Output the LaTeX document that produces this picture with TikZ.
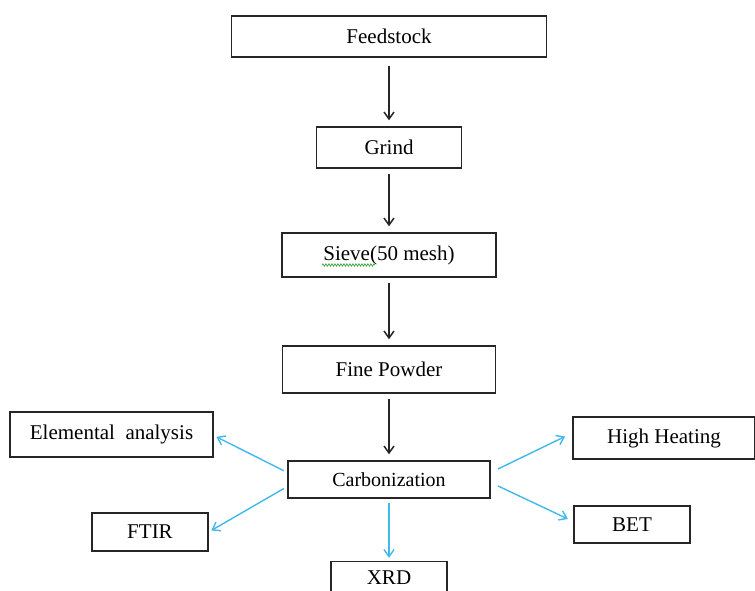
\documentclass[tikz,border=0pt]{standalone}
\usepackage{fontspec}
\setmainfont{Liberation Serif}
\usetikzlibrary{positioning,arrows.meta,decorations.pathmorphing,calc}
\definecolor{testblue}{RGB}{64,184,236}
\definecolor{spellgreen}{RGB}{60,170,60}
\tikzset{
  box/.style={draw=black!85, line width=1.4pt, rectangle, inner sep=0pt,
    font=\fontsize{21}{24}\selectfont},
  flow/.style={-{Straight Barb[length=7pt,width=10pt]}, line width=1.5pt, black!85,
    shorten <=5pt, shorten >=6pt},
  test/.style={-{Straight Barb[length=7pt,width=10pt]}, line width=1.4pt, testblue,
    shorten <=4pt, shorten >=3pt},
}

\begin{document}
\begin{tikzpicture}[x=1pt,y=-1pt,node distance=110pt,on grid]
  \useasboundingbox (0,0) rectangle (755,591);
  % main line
  \node[box,minimum width=315pt,minimum height=41pt] (feed) at (389,36.5) {Feedstock};
  \node[box,minimum width=145pt,minimum height=41pt] (grind) [below=111pt of feed] {Grind};
  \node[box,minimum width=214pt,minimum height=44pt] (sieve) [below=107.5pt of grind] {Sieve(50 mesh)};
  \node[box,minimum width=213pt,minimum height=47pt] (powder) [below=114.5pt of sieve] {Fine Powder};
  \node[box,minimum width=202pt,minimum height=37pt,font=\fontsize{20}{23}\selectfont] (carb) [below=110pt of powder] {Carbonization};
  % analyses
  \node[box,minimum width=116pt,minimum height=33pt,text depth=0pt] (xrd) [below=98.5pt of carb] {XRD};
  \node[box,minimum width=203pt,minimum height=45pt] (elem) [above left=45pt and 277.5pt of carb] {Elemental\ \ analysis};
  \node[box,minimum width=116pt,minimum height=38pt] (ftir) [below left=52.5pt and 239pt of carb] {FTIR};
  \node[box,minimum width=182pt,minimum height=42pt] (heat) [above right=41.5pt and 275pt of carb] {High Heating};
  \node[box,minimum width=116pt,minimum height=37pt] (bet) [below right=45pt and 243pt of carb] {BET};

  \draw[flow,shorten <=8pt] (feed) -- (grind);
  \draw[flow] (grind) -- (sieve);
  \draw[flow] (sieve) -- (powder);
  \draw[flow] (powder) -- (carb);
  \draw[test] (carb) -- (xrd);
  \draw[test] ([yshift=7pt]carb.west) -- ([yshift=-1pt]elem.east);
  \draw[test] ([yshift=-7pt]carb.west) -- (ftir.east);
  \draw[test,shorten <=8pt,shorten >=8pt] ([yshift=7pt]carb.east) -- ([yshift=5pt]heat.west);
  \draw[test,shorten <=8pt,shorten >=6pt] ([yshift=-3pt]carb.east) -- ([yshift=3pt]bet.west);

  % spell-check mark
  \draw[spellgreen,line width=0.7pt,decorate,decoration={snake,amplitude=1.2pt,segment length=3pt}]
    ($(sieve.center)+(-67,10)$) -- ($(sieve.center)+(-14,10)$);
\end{tikzpicture}
\end{document}
